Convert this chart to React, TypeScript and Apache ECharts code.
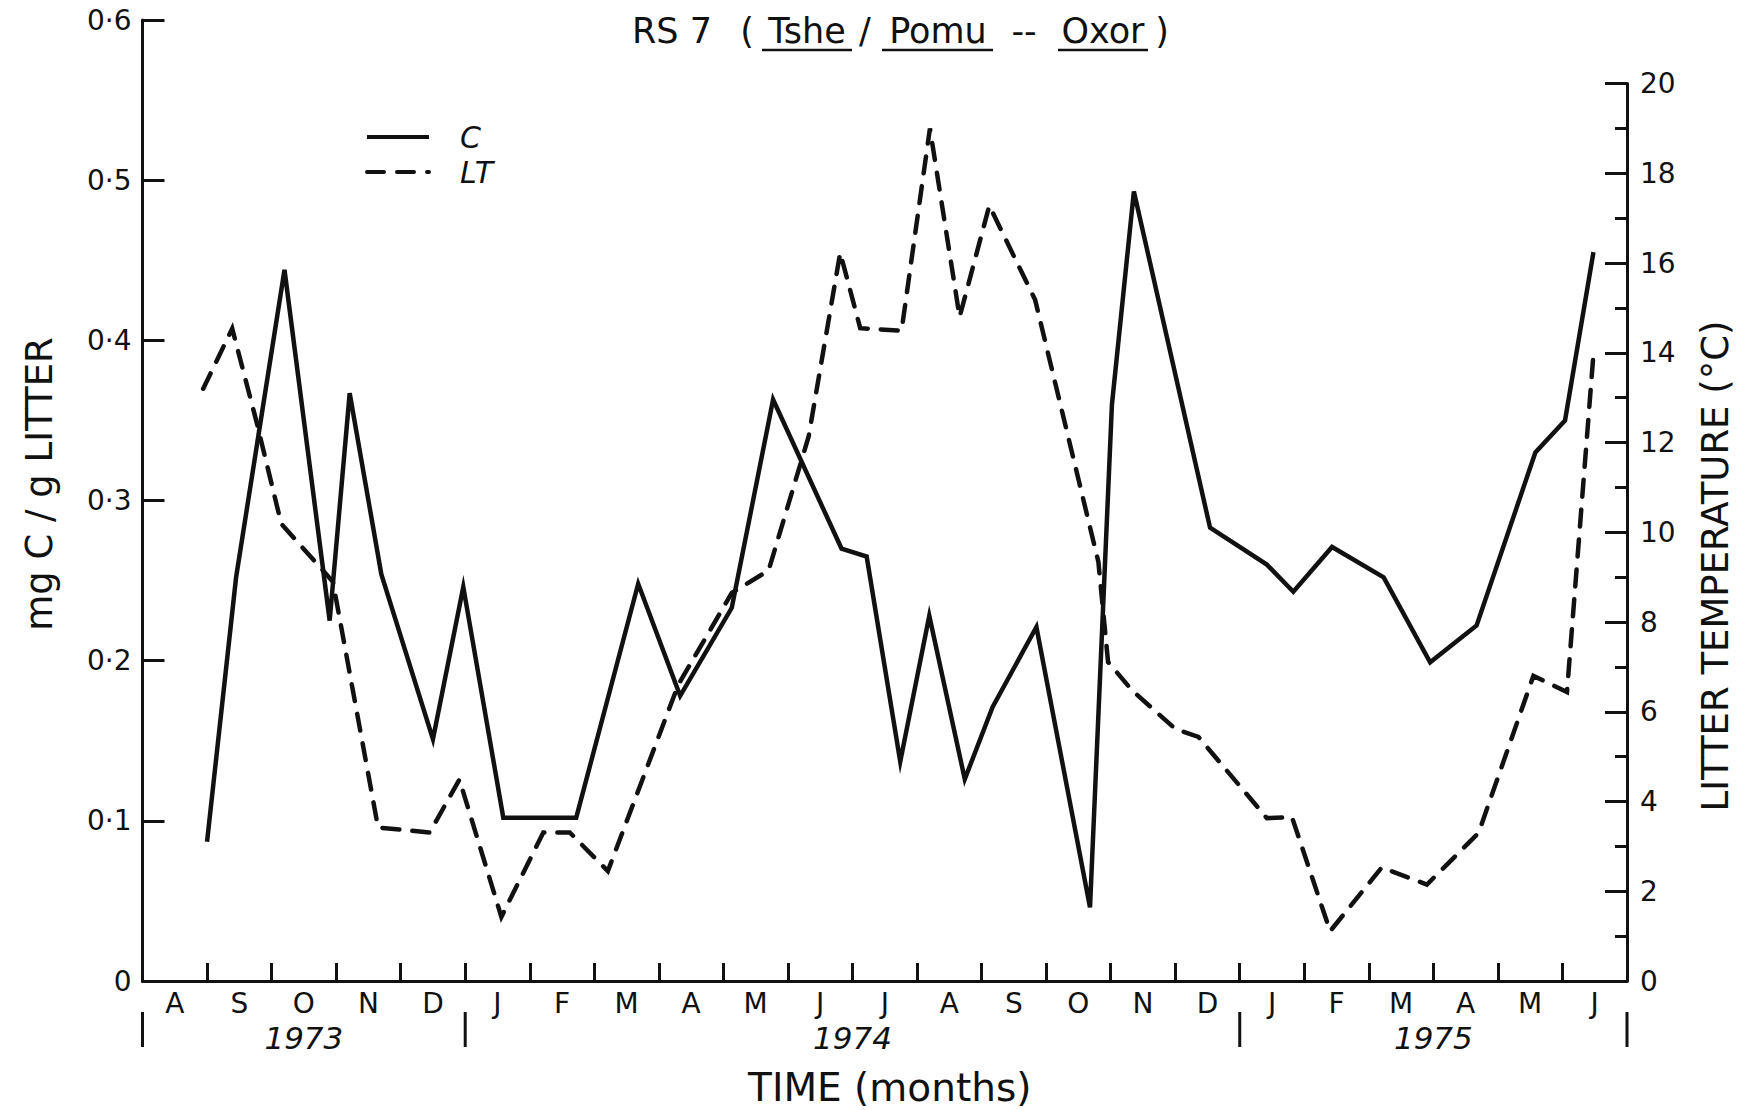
import React, { useEffect, useRef } from 'react';
import * as echarts from 'echarts';

// ---- data ----
const monthLabels = ['A', 'S', 'O', 'N', 'D', 'J', 'F', 'M', 'A', 'M', 'J', 'J', 'A', 'S', 'O', 'N', 'D', 'J', 'F', 'M', 'A', 'M', 'J'];
const yearLabels = ['1973', '1974', '1975'];
const yearStarts = [0, 5, 17];
const yearEnds = [5, 17, 23];

// C (mg C / g litter), x = months since 1 Aug 1973
const cMonths = [1.0, 1.45, 2.2, 2.9, 3.21, 3.7, 4.5, 4.97, 5.59, 6.72, 7.68, 8.33, 9.13, 9.77, 10.83, 11.22, 11.74, 12.19, 12.74, 13.17, 13.85, 14.68, 15.02, 15.36, 16.54, 17.42, 17.83, 18.43, 19.23, 19.95, 20.67, 21.58, 22.04, 22.48];
const cValues = [0.087, 0.252, 0.444, 0.225, 0.367, 0.254, 0.151, 0.246, 0.102, 0.102, 0.248, 0.178, 0.233, 0.363, 0.27, 0.265, 0.137, 0.228, 0.126, 0.171, 0.221, 0.046, 0.36, 0.493, 0.283, 0.26, 0.243, 0.271, 0.252, 0.199, 0.222, 0.33, 0.35, 0.455];

// LT (litter temperature, °C)
const ltMonths = [0.94, 1.39, 1.76, 2.15, 2.95, 3.65, 4.45, 4.91, 5.56, 6.21, 6.62, 7.21, 8.3, 9.13, 9.7, 10.32, 10.81, 11.12, 11.76, 12.2, 12.66, 13.12, 13.83, 14.81, 14.96, 15.33, 16.0, 16.36, 17.42, 17.81, 18.4, 19.2, 19.9, 20.7, 21.55, 22.07, 22.48];
const ltValues = [13.2, 14.54, 12.5, 10.19, 8.9, 3.42, 3.31, 4.49, 1.43, 3.31, 3.31, 2.45, 6.6, 8.65, 9.15, 12.13, 16.23, 14.55, 14.49, 19.0, 14.8, 17.28, 15.18, 9.34, 7.11, 6.48, 5.62, 5.44, 3.63, 3.65, 1.11, 2.53, 2.15, 3.3, 6.8, 6.44, 13.97];

const FONT = '"DejaVu Sans", "Liberation Sans", Arial, sans-serif';
const INK = '#111';

export default function App() {
  const ref = useRef<HTMLDivElement>(null);

  useEffect(() => {
    if (!ref.current) return;
    const chart = echarts.init(ref.current, null, { renderer: 'svg' });

    const gridLeft = 142.5;
    const gridWidth = 1484.5;

    const option: any = {
      animation: false,
      backgroundColor: '#fff',
      textStyle: { fontFamily: FONT, color: INK },
      grid: [
        { left: gridLeft, width: gridWidth, top: 20, height: 961 },
        { left: gridLeft, width: gridWidth, top: 83.6, height: 897.4 },
      ],
      legend: {
        data: ['C', 'LT'],
        orient: 'vertical',
        left: 360,
        top: 117,
        itemWidth: 62,
        itemHeight: 24,
        itemGap: 5,
        itemStyle: { opacity: 0 },
        lineStyle: { width: 4 },
        textStyle: { fontSize: 30, lineHeight: 24, fontStyle: 'italic', color: INK, fontFamily: FONT, padding: [0, 0, 0, 26] },
      },
      xAxis: [
        {
          type: 'category',
          gridIndex: 0,
          data: monthLabels,
          boundaryGap: true,
          axisLine: { show: true, onZero: false, lineStyle: { color: INK, width: 3 } },
          axisTick: { show: true, inside: true, length: 18, interval: 0, lineStyle: { color: INK, width: 3 } },
          axisLabel: { interval: 0, fontSize: 28, margin: 8, color: INK, fontFamily: FONT },
          splitLine: { show: false },
        },
        { type: 'value', gridIndex: 0, min: 0, max: 23, show: false },
        { type: 'value', gridIndex: 1, min: 0, max: 23, show: false },
      ],
      yAxis: [
        {
          type: 'value',
          gridIndex: 0,
          position: 'left',
          min: 0,
          max: 0.6,
          interval: 0.1,
          axisLine: { show: true, onZero: false, lineStyle: { color: INK, width: 3 } },
          axisTick: { show: true, inside: true, length: 22, lineStyle: { color: INK, width: 3 } },
          axisLabel: {
            fontSize: 28,
            margin: 11,
            color: INK,
            fontFamily: FONT,
            formatter: (v: number) => (v === 0 ? '0' : v.toFixed(1).replace('.', '·')),
          },
          splitLine: { show: false },
        },
        {
          type: 'value',
          gridIndex: 1,
          position: 'right',
          min: 0,
          max: 20,
          interval: 2,
          axisLine: { show: true, onZero: false, lineStyle: { color: INK, width: 3 } },
          axisTick: { show: true, inside: true, length: 22, lineStyle: { color: INK, width: 3 } },
          minorTick: { show: true, splitNumber: 2, length: 12, lineStyle: { color: INK, width: 3 } },
          axisLabel: { fontSize: 28, margin: 13, color: INK, fontFamily: FONT },
          splitLine: { show: false },
          minorSplitLine: { show: false },
        },
      ],
      series: [
        {
          name: 'C',
          type: 'line',
          xAxisIndex: 1,
          yAxisIndex: 0,
          symbol: 'none',
          data: cMonths.map((m, i) => [m, cValues[i]]),
          lineStyle: { color: INK, width: 4.5, type: 'solid', join: 'miter', miterLimit: 6 },
          itemStyle: { color: INK },
        },
        {
          name: 'LT',
          type: 'line',
          xAxisIndex: 2,
          yAxisIndex: 1,
          symbol: 'none',
          data: ltMonths.map((m, i) => [m, ltValues[i]]),
          lineStyle: { color: INK, width: 4.5, type: [17, 13], cap: 'round', join: 'miter', miterLimit: 6 },
          itemStyle: { color: INK },
        },
      ],
    };

    chart.setOption(option);

    const xp = (m: number) => chart.convertToPixel({ xAxisIndex: 1 } as any, m) as number;

    const titleParts: { t: string; x: number; u?: [number, number] }[] = [
      { t: 'RS 7', x: 672 },
      { t: '(', x: 747 },
      { t: 'Tshe', x: 807, u: [762, 852] },
      { t: '/', x: 865 },
      { t: 'Pomu', x: 938, u: [882, 993] },
      { t: '--', x: 1024 },
      { t: 'Oxor', x: 1103, u: [1058, 1148] },
      { t: ')', x: 1162 },
    ];

    const graphics: any[] = [];
    titleParts.forEach((p) => {
      graphics.push({
        type: 'text',
        x: p.x,
        y: 31,
        style: { text: p.t, fontSize: 35, fontFamily: FONT, fill: INK, align: 'center', verticalAlign: 'middle' },
      });
      if (p.u) {
        graphics.push({
          type: 'line',
          shape: { x1: p.u[0], y1: 50, x2: p.u[1], y2: 50 },
          style: { stroke: INK, lineWidth: 2.5 },
        });
      }
    });

    graphics.push({
      type: 'text',
      x: 39,
      y: 484,
      rotation: Math.PI / 2,
      style: { text: 'mg C / g LITTER', fontSize: 37, fontFamily: FONT, fill: INK, align: 'center', verticalAlign: 'middle' },
    });
    graphics.push({
      type: 'text',
      x: 1715,
      y: 566,
      rotation: Math.PI / 2,
      style: { text: 'LITTER TEMPERATURE (°C)', fontSize: 37, fontFamily: FONT, fill: INK, align: 'center', verticalAlign: 'middle' },
    });
    graphics.push({
      type: 'text',
      x: (xp(0) + xp(23)) / 2 + 5,
      y: 1087,
      style: { text: 'TIME (months)', fontSize: 39, fontFamily: FONT, fill: INK, align: 'center', verticalAlign: 'middle' },
    });

    const bounds = [0, 5, 17, 23];
    bounds.forEach((b) => {
      const x = xp(b);
      graphics.push({
        type: 'line',
        shape: { x1: x, y1: 1012, x2: x, y2: 1047 },
        style: { stroke: INK, lineWidth: 3 },
      });
    });
    yearLabels.forEach((y, i) => {
      graphics.push({
        type: 'text',
        x: (xp(yearStarts[i]) + xp(yearEnds[i])) / 2,
        y: 1038,
        style: { text: y, fontSize: 31, fontStyle: 'italic', fontFamily: FONT, fill: INK, align: 'center', verticalAlign: 'middle' },
      });
    });

    chart.setOption({ graphic: graphics });

    return () => chart.dispose();
  }, []);

  return (
    <div
      ref={ref}
      style={{ position: 'fixed', left: 0, top: 0, width: 1748, height: 1110, background: '#fff' }}
    />
  );
}
